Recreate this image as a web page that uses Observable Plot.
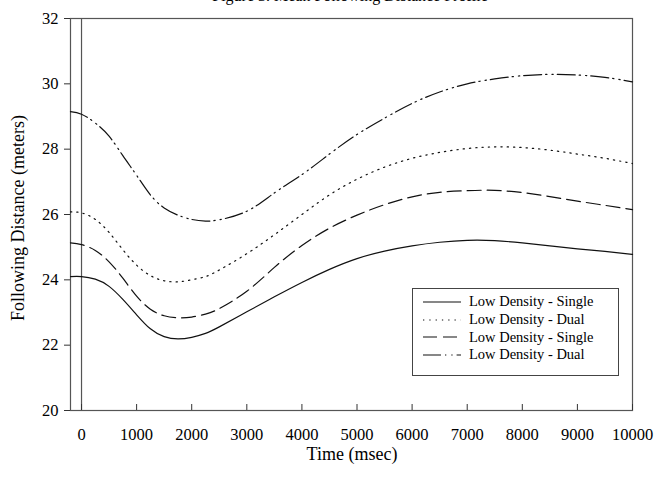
<!DOCTYPE html>
<html><head><meta charset="utf-8">
<script src="https://cdn.jsdelivr.net/npm/d3@7"></script>
<script src="https://cdn.jsdelivr.net/npm/@observablehq/plot@0.6"></script>
<style>
html,body{margin:0;padding:0;background:#fff;}
#wrap{position:relative;width:655px;height:477px;overflow:hidden;font-family:"Liberation Serif","Times New Roman",serif;color:#000;}
#title{position:absolute;top:-12px;left:0;width:700px;text-align:center;font-size:16px;line-height:16px;}
#xlabel{position:absolute;left:252px;width:200px;top:443px;text-align:center;font-size:18px;line-height:22px;}
#ylabel{position:absolute;left:-132px;top:207px;width:300px;text-align:center;font-size:18px;line-height:22px;transform:rotate(-90deg);}
#legend{position:absolute;left:412px;top:288px;width:207px;height:88px;border:1px solid #444;background:#fff;box-sizing:border-box;padding-top:4px;}
.row{display:flex;align-items:center;height:17.7px;font-size:14.5px;}
.row svg{margin-left:10px;margin-right:8px;}
#chart svg text{font-size:16.5px !important;font-family:"Liberation Serif","Times New Roman",serif !important;}
</style></head>
<body>
<div id="wrap">
<div id="title">Figure 3. Mean Following Distance Profile</div>
<div id="chart"></div>
<div id="xlabel">Time (msec)</div>
<div id="ylabel">Following Distance (meters)</div>
<div id="legend"></div>
</div>
<script>
const times = [-200, 0, 250, 500, 750, 1000, 1250, 1500, 1750, 2000, 2250, 2500, 3000, 3500, 4000, 4500, 5000, 5500, 6000, 6500, 7000, 7500, 8000, 8500, 9000, 9500, 10000];
const lowSingleA = [24.1, 24.1, 24.02, 23.8, 23.4, 22.93, 22.5, 22.26, 22.19, 22.24, 22.36, 22.56, 23.02, 23.48, 23.92, 24.32, 24.65, 24.88, 25.04, 25.15, 25.21, 25.2, 25.13, 25.04, 24.95, 24.87, 24.78];
const lowDualA = [26.08, 26.05, 25.85, 25.45, 24.92, 24.45, 24.13, 23.97, 23.94, 24.0, 24.1, 24.3, 24.8, 25.38, 26.0, 26.6, 27.08, 27.45, 27.72, 27.9, 28.02, 28.07, 28.05, 27.97, 27.85, 27.72, 27.56];
const lowSingleB = [25.13, 25.08, 24.9, 24.55, 24.05, 23.5, 23.1, 22.9, 22.84, 22.86, 22.95, 23.12, 23.65, 24.38, 25.05, 25.58, 25.98, 26.3, 26.54, 26.68, 26.73, 26.74, 26.67, 26.55, 26.41, 26.28, 26.15];
const lowDualB = [29.15, 29.07, 28.8, 28.4, 27.8, 27.2, 26.6, 26.2, 25.98, 25.85, 25.8, 25.84, 26.1, 26.66, 27.22, 27.85, 28.45, 28.95, 29.4, 29.75, 30.0, 30.15, 30.25, 30.29, 30.27, 30.2, 30.06];
const seriesNames = ["Low Density - Single", "Low Density - Dual", "Low Density - Single", "Low Density - Dual"];
const xTicks = [0, 1000, 2000, 3000, 4000, 5000, 6000, 7000, 8000, 9000, 10000];
const yTicks = [20, 22, 24, 26, 28, 30, 32];

const dashes = [null, "1.3,5", "14,6", "18,4,1.3,5,1.3,4"];
const allSeries = [lowSingleA, lowDualA, lowSingleB, lowDualB];

const lineMarks = allSeries.map((vals, i) =>
  Plot.line(times.map((t, j) => ({t, v: vals[j]})), {
    x: "t", y: "v", curve: "natural", stroke: "#111", strokeWidth: 1.2,
    strokeDasharray: dashes[i] || undefined
  })
);

const chart = Plot.plot({
  width: 655, height: 477,
  marginTop: 18, marginBottom: 67, marginLeft: 70, marginRight: 23,
  style: {fontFamily: "'Liberation Serif','Times New Roman',serif", fontSize: "16.5px", color: "#000", background: "#fff"},
  x: {domain: [-200, 10000]},
  y: {domain: [20, 32]},
  marks: [
    Plot.frame({stroke: "#555", strokeWidth: 1.2}),
    Plot.ruleX([0], {stroke: "#555", strokeWidth: 1.2}),
    Plot.ruleX(xTicks, {x: d => d, insetTop: 386, stroke: "#333"}),
    Plot.axisX({ticks: xTicks, tickSize: 0, tickPadding: 18, tickFormat: d => String(d), fontSize: 16.5, label: null}),
    Plot.axisY({ticks: yTicks, tickSize: 6, tickPadding: 6, fontSize: 16.5, stroke: "#333", label: null}),
    ...lineMarks
  ]
});
document.getElementById("chart").appendChild(chart);

const legend = document.getElementById("legend");
seriesNames.forEach((name, i) => {
  const row = document.createElement("div");
  row.className = "row";
  row.innerHTML = `<svg width="38" height="6"><line x1="0" y1="3" x2="38" y2="3" stroke="#111" stroke-width="1.2" ${dashes[i] ? `stroke-dasharray="${dashes[i]}"` : ""}/></svg><span>${name}</span>`;
  legend.appendChild(row);
});
</script>
</body></html>
